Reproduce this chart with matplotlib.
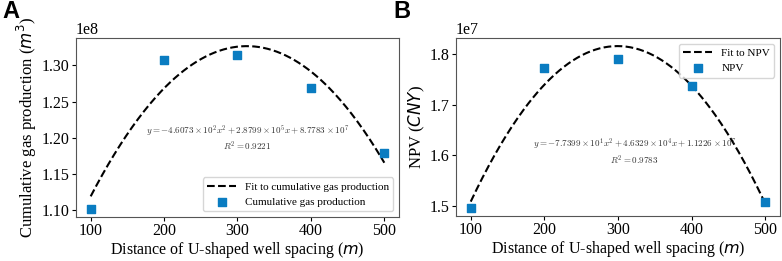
import numpy as np
import matplotlib
matplotlib.use('Agg')
import matplotlib.pyplot as plt

# well spacing (m)
spacing = [100, 200, 300, 400, 500]
# cumulative gas production (m^3)
gas = [1.102e8, 1.307e8, 1.314e8, 1.269e8, 1.179e8]
# NPV (CNY)
npv = [1.4955e7, 1.7733e7, 1.7915e7, 1.738e7, 1.508e7]

gas_eq = r'$y=-4.6073\times10^{2}x^{2}+2.8799\times10^{5}x+8.7783\times10^{7}$'
gas_r2 = r'$R^{2}=0.9221$'
npv_eq = r'$y=-7.7399\times10^{1}x^{2}+4.6329\times10^{4}x+1.1226\times10^{7}$'
npv_r2 = r'$R^{2}=0.9783$'

plt.rcParams['font.family'] = 'Liberation Serif'
plt.rcParams['axes.edgecolor'] = '#555555'
marker_color = '#0a7cc1'

fig = plt.figure(figsize=(7.82, 2.61), dpi=100)
ax1 = fig.add_axes([76 / 782, 1 - 217 / 261, 323 / 782, 179 / 261])
ax2 = fig.add_axes([456 / 782, 1 - 216 / 261, 324 / 782, 178 / 261])

xs = np.linspace(100, 500, 200)


def panel(ax, y, fit_label, pt_label, eq, r2, eq_pos, legend_loc, ylabel):
    coef = np.polyfit(spacing, y, 2)
    ax.plot(xs, np.polyval(coef, xs), 'k--', lw=1.5, label=fit_label)
    ax.scatter(spacing, y, marker='s', s=32, color=marker_color, label=pt_label, zorder=3)
    ax.text(eq_pos[0], eq_pos[1], eq, transform=ax.transAxes, ha='center', va='center',
            fontsize=6.5, math_fontfamily='cm', color='#333333')
    ax.text(eq_pos[0], eq_pos[1] - 0.085, r2, transform=ax.transAxes, ha='center', va='center',
            fontsize=6.5, math_fontfamily='cm', color='#333333')
    ax.set_xlabel(r'Distance of U-shaped well spacing ($m$)', fontsize=11.5, labelpad=0.5)
    ax.set_ylabel(ylabel, fontsize=12, labelpad=2)
    ax.tick_params(labelsize=11.5, length=3, pad=1.5)
    ax.yaxis.get_offset_text().set_fontsize(11.5)
    ax.set_xticks(spacing)
    ax.legend(loc=legend_loc, fontsize=8, frameon=True, fancybox=True, handlelength=2.6)


panel(ax1, gas, 'Fit to cumulative gas production', 'Cumulative gas production',
      gas_eq, gas_r2, (0.53, 0.48), 'lower right', r'Cumulative gas production ($m^3$)')
panel(ax2, npv, 'Fit to NPV', 'NPV', npv_eq, npv_r2, (0.55, 0.40), 'upper right', r'NPV ($CNY$)')

fig.text(2 / 782, 1 - 12 / 261, 'A', fontsize=17, fontweight='bold', family='Liberation Sans', va='center')
fig.text(393 / 782, 1 - 12 / 261, 'B', fontsize=17, fontweight='bold', family='Liberation Sans', va='center')

fig.savefig('out.png', dpi=100)
